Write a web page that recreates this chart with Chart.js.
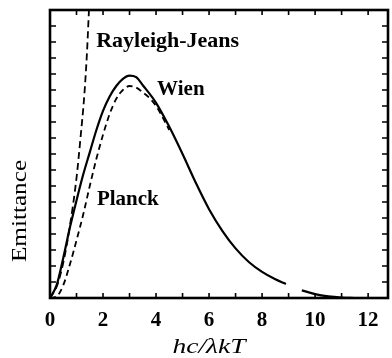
<!DOCTYPE html>
<html>
<head>
<meta charset="utf-8">
<script src="https://cdn.jsdelivr.net/npm/chart.js@4/dist/chart.umd.min.js"></script>
<style>
  body { margin: 0; background: #fff; }
  #wrap { width: 392px; height: 358px; }
</style>
</head>
<body>
<div id="wrap"><canvas id="chart"></canvas></div>
<script>
// values (x = hc/λkT, y = emittance in arbitrary units)
const planckX = [0, 0.25, 0.5, 0.75, 1.0, 1.25, 1.5, 1.75, 2.0, 2.25, 2.5, 2.75, 3.0, 3.25, 3.5, 4.0, 4.5, 5.0, 5.5, 6.0, 6.5, 7.0, 7.5, 8.0, 8.5, 8.9, 9.2, 9.5, 10.0, 10.5, 11.0, 11.5];
const planckY = [0, 0.08, 0.25, 0.44, 0.61, 0.77, 0.91, 1.05, 1.17, 1.26, 1.325, 1.37, 1.39, 1.38, 1.33, 1.22, 1.07, 0.90, 0.72, 0.555, 0.42, 0.31, 0.225, 0.163, 0.117, 0.088, null, 0.048, 0.024, 0.01, 0.003, 0];

const wienX = [0, 0.25, 0.5, 0.75, 1.0, 1.25, 1.5, 1.75, 2.0, 2.25, 2.5, 2.75, 3.0, 3.25, 3.5, 3.75, 4.0, 4.5];
const wienY = [0, 0.01, 0.08, 0.21, 0.36, 0.52, 0.70, 0.87, 1.02, 1.15, 1.245, 1.30, 1.325, 1.315, 1.285, 1.25, 1.20, 1.05];

const rjX = [0, 0.25, 0.5, 0.75, 1.0, 1.15, 1.3, 1.4, 1.47, 1.52];
const rjY = [0, 0.07, 0.22, 0.45, 0.75, 1.0, 1.28, 1.55, 1.8, 1.95];

const xTicks = [0, 2, 4, 6, 8, 10, 12];
const curveNames = ['Planck', 'Wien', 'Rayleigh-Jeans'];
const xTitle = 'hc/λkT';
const yTitle = 'Emittance';

const pts = (xs, ys) => xs.map((x, i) => ({ x: x, y: ys[i] }));

const serif = '"Liberation Serif", "DejaVu Serif", serif';

// frame, inward ticks, axis titles and the curve names
const framePlugin = {
    id: 'frame',
    afterDatasetsDraw(chart) {
        const { ctx, chartArea: a, scales } = chart;
        const xs = scales.x, ys = scales.y;
        ctx.save();
        ctx.strokeStyle = '#000';
        ctx.lineWidth = 1.6;
        ctx.beginPath();
        xs.ticks.forEach(t => {
            const px = xs.getPixelForValue(t.value);
            ctx.moveTo(px, a.bottom); ctx.lineTo(px, a.bottom - 5);
            ctx.moveTo(px, a.top); ctx.lineTo(px, a.top + 5);
        });
        ys.ticks.forEach(t => {
            const py = ys.getPixelForValue(t.value);
            ctx.moveTo(a.left, py); ctx.lineTo(a.left + 6, py);
            ctx.moveTo(a.right, py); ctx.lineTo(a.right - 6, py);
        });
        ctx.stroke();
        ctx.lineWidth = 2.6;
        ctx.strokeRect(a.left, a.top, a.right - a.left, a.bottom - a.top);

        ctx.fillStyle = '#000';
        ctx.textBaseline = 'alphabetic';
        ctx.textAlign = 'left';
        ctx.font = 'bold 22px ' + serif;
        ctx.fillText(curveNames[2], xs.getPixelForValue(1.74), ys.getPixelForValue(1.57));
        ctx.font = 'bold 21px ' + serif;
        ctx.fillText(curveNames[1], xs.getPixelForValue(4.04), ys.getPixelForValue(1.27));
        ctx.fillText(curveNames[0], xs.getPixelForValue(1.77), ys.getPixelForValue(0.58));

        // axis titles, a little stretched like the scanned figure
        ctx.textAlign = 'center';
        ctx.textBaseline = 'middle';
        ctx.save();
        ctx.translate(209, 347);
        ctx.scale(1.25, 1);
        ctx.font = 'italic 22px ' + serif;
        ctx.fillText(xTitle, 0, 0);
        ctx.restore();

        ctx.save();
        ctx.translate(21, 211);
        ctx.rotate(-Math.PI / 2);
        ctx.scale(1.26, 1);
        ctx.font = '20px ' + serif;
        ctx.fillText(yTitle, 0, 0);
        ctx.restore();
        ctx.restore();
    }
};

new Chart(document.getElementById('chart'), {
    type: 'line',
    data: {
        datasets: [
            {
                label: curveNames[0],
                data: pts(planckX, planckY),
                borderColor: '#000',
                borderWidth: 2.2,
                pointRadius: 0,
                cubicInterpolationMode: 'monotone',
                spanGaps: false
            },
            {
                label: curveNames[1],
                data: pts(wienX, wienY),
                borderColor: '#000',
                borderWidth: 1.8,
                borderDash: [6, 4],
                pointRadius: 0,
                cubicInterpolationMode: 'monotone'
            },
            {
                label: curveNames[2],
                data: pts(rjX, rjY),
                borderColor: '#000',
                borderWidth: 1.8,
                borderDash: [7, 4],
                pointRadius: 0,
                cubicInterpolationMode: 'monotone'
            }
        ]
    },
    options: {
        responsive: true,
        maintainAspectRatio: false,
        animation: false,
        devicePixelRatio: 1,
        layout: { padding: { top: 10, right: 4, left: 0, bottom: 0 } },
        plugins: { legend: { display: false }, tooltip: { enabled: false } },
        scales: {
            x: {
                type: 'linear',
                position: 'bottom',
                min: 0,
                max: 12.75,
                grid: { display: false },
                border: { display: false },
                ticks: {
                    stepSize: 1,
                    includeBounds: false,
                    autoSkip: false,
                    maxRotation: 0,
                    padding: 2,
                    color: '#000',
                    font: { family: serif, size: 21, weight: 'bold' },
                    callback: v => xTicks.includes(v) ? String(v) : ''
                },
                afterFit: s => { s.height = 60; }
            },
            y: {
                min: 0,
                max: 1.8,
                grid: { display: false },
                border: { display: false },
                ticks: { display: false, stepSize: 0.1 },
                afterFit: s => { s.width = 50; }
            }
        }
    },
    plugins: [framePlugin]
});
</script>
</body>
</html>
